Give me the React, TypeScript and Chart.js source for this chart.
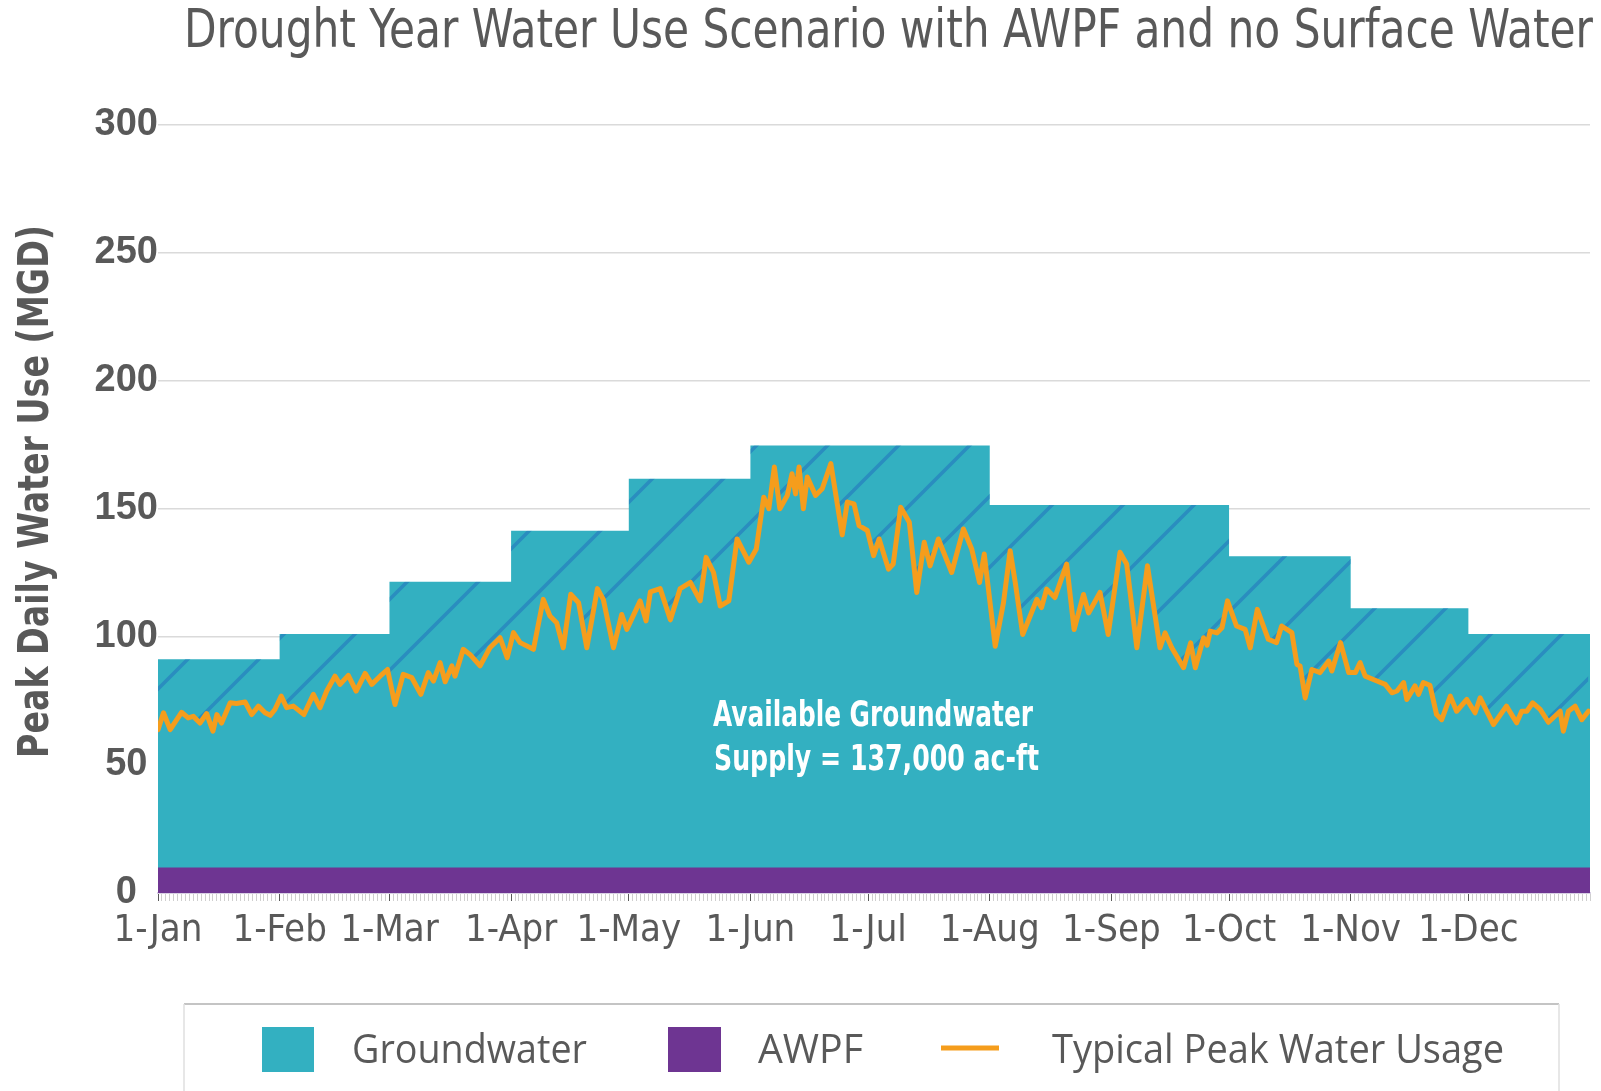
import { useEffect, useRef } from 'react';
import { Chart, registerables } from 'chart.js';

Chart.register(...registerables);

// ---------- data ----------
const monthLabels = ['1-Jan', '1-Feb', '1-Mar', '1-Apr', '1-May', '1-Jun', '1-Jul', '1-Aug', '1-Sep', '1-Oct', '1-Nov', '1-Dec'];
const monthStartDays = [0, 31, 59, 90, 120, 151, 181, 212, 243, 273, 304, 334];
const yearEndDay = 365;

// MGD available per month
const awpfSupply = [10, 10, 10, 10, 10, 10, 10, 10, 10, 10, 10, 10];
const groundwaterSupply = [81.3, 91.2, 111.6, 131.5, 151.8, 164.8, 164.8, 141.6, 141.6, 121.5, 101.2, 91.2];

// Typical peak water usage (day of year, MGD)
const usageDays = [
  0, 1.4, 3.1, 6.0, 7.7, 9.0, 10.7, 12.4, 14.0, 15.0, 16.2, 18.4, 20.0, 22.2, 23.9, 25.6, 27.3, 28.6, 29.8,
  31.4, 32.8, 34.5, 37.2, 39.6, 41.3, 43.0, 45.1, 46.4, 48.5, 50.5, 52.8, 54.5, 56.6, 58.5,
  60.4, 62.5, 64.7, 67.0, 68.9, 70.2, 71.9, 73.2, 74.9, 75.7, 77.8, 79.5, 82.1, 84.6, 87.2, 89.0,
  90.6, 92.3, 95.7, 98.2, 99.9, 101.6, 103.3, 105.2, 107.2, 109.3, 112.0, 113.5, 116.1, 118.2, 119.5,
  122.9, 124.4, 125.5, 128.0, 130.6, 133.1, 135.7, 138.2, 139.7, 141.6, 143.3, 145.5, 147.6, 150.6,
  152.5, 154.4, 155.7, 157.1, 158.5, 160.4, 161.6, 162.5, 163.4, 164.5, 165.5, 167.6, 169.3, 171.5,
  174.4, 175.7, 177.4, 178.7, 180.8, 182.4, 183.8, 186.2, 187.4, 189.3, 191.5, 193.4, 195.3, 196.8,
  198.9, 202.3, 205.3, 207.4, 209.4, 210.6, 213.4, 215.5, 217.2, 218.5, 220.4, 222.3, 224.0, 225.2,
  226.5, 228.6, 231.6, 233.5, 235.9, 237.2, 240.1, 242.2, 245.2, 246.9, 249.5, 252.2, 255.4, 256.7,
  258.4, 261.4, 263.2, 264.4, 266.5, 267.4, 268.2, 269.9, 271.2, 272.6, 274.9, 277.1, 278.4, 280.2,
  283.0, 285.1, 286.4, 289.0, 290.3, 291.1, 292.4, 294.1, 296.2, 298.4, 299.2, 301.4, 303.5, 305.2,
  306.4, 307.7, 310.7, 312.8, 314.5, 315.8, 317.5, 318.3, 320.4, 321.3, 322.5, 324.2, 325.9, 327.2,
  329.4, 331.0, 333.6, 335.7, 337.0, 340.4, 343.7, 346.3, 347.6, 348.9, 350.4, 352.3, 354.4, 357.4,
  358.2, 359.5, 361.2, 362.9, 364.6,
];
const usageValues = [
  63.8, 70.4, 63.8, 70.6, 68.4, 69.0, 66.4, 70.1, 63.2, 69.7, 66.4, 74.3, 74.0, 74.6, 69.7, 73.0, 70.4, 69.4, 71.7,
  76.9, 72.4, 73.0, 69.7, 77.6, 72.4, 78.9, 84.7, 81.5, 85.0, 78.9, 85.8, 81.5, 84.7, 87.3,
  73.6, 85.4, 84.1, 77.6, 86.1, 82.8, 90.0, 82.5, 88.7, 84.7, 95.2, 93.2, 88.7, 95.8, 99.7, 91.9,
  101.7, 97.8, 95.2, 114.7, 108.2, 105.6, 95.8, 116.7, 113.4, 95.8, 118.9, 114.7, 95.8, 108.8, 103.0,
  114.1, 106.3, 117.6, 118.9, 106.7, 118.9, 121.3, 114.1, 131.1, 125.2, 112.1, 114.1, 138.3, 129.2,
  134.4, 154.6, 150.1, 166.4, 150.1, 155.3, 163.8, 155.9, 166.4, 150.1, 162.5, 155.3, 157.9, 167.7,
  139.9, 152.7, 152.0, 143.5, 141.6, 131.8, 138.3, 126.5, 128.5, 150.7, 144.8, 117.4, 137.0, 127.8,
  138.3, 125.2, 142.2, 134.4, 121.3, 132.4, 96.4, 113.4, 133.7, 121.3, 101.0, 108.2, 114.7, 111.5,
  118.7, 115.4, 128.5, 102.9, 116.6, 109.4, 117.4, 101.0, 133.1, 128.5, 95.8, 127.8, 95.8, 101.6,
  95.8, 88.0, 97.7, 88.0, 99.7, 96.8, 102.3, 101.6, 103.6, 114.1, 104.3, 103.0, 95.8, 110.8,
  99.1, 97.8, 104.3, 101.7, 89.3, 88.7, 76.2, 87.3, 86.1, 90.6, 86.7, 97.8, 86.1, 86.1,
  90.0, 84.7, 82.8, 81.5, 78.2, 78.9, 82.2, 75.6, 80.9, 77.6, 82.2, 81.1, 69.7, 67.7,
  76.9, 71.0, 75.6, 70.4, 76.2, 65.8, 73.0, 66.5, 71.0, 71.0, 74.3, 71.7, 66.7, 71.0,
  63.2, 71.0, 73.0, 67.7, 71.0,
];

const yMin = 0;
const yMax = 300;
const yStep = 50;

const titleText = 'Drought Year Water Use Scenario with AWPF and no Surface Water';
const yTitleText = 'Peak Daily Water Use (MGD)';
const noteLines = ['Available Groundwater', 'Supply = 137,000 ac-ft'];
const seriesNames = ['Groundwater', 'AWPF', 'Typical Peak Water Usage'];

// ---------- styles ----------
const TEAL = '#33b0c1';
const PURPLE = '#6e3592';
const ORANGE = '#f59d1c';
const HATCH = '#2a8dbf';
const GRAY = '#595959';
const NARROW = '"Liberation Sans Narrow", "Nimbus Sans Narrow", "DejaVu Sans Condensed", "Liberation Sans", sans-serif';
const SANS = '"Liberation Sans", Arial, sans-serif';
const OPEN = '"Open Sans", "Noto Sans", sans-serif';

function stepPoints(values: number[]) {
  const pts = monthStartDays.map((d, i) => ({ x: d, y: values[i] }));
  pts.push({ x: yearEndDay, y: values[values.length - 1] });
  return pts;
}

function makeHatch(): CanvasPattern | string {
  const size = 71;
  const c = document.createElement('canvas');
  c.width = size;
  c.height = size;
  const g = c.getContext('2d');
  if (!g) return 'transparent';
  g.strokeStyle = HATCH;
  g.lineWidth = 3.5;
  for (const k of [-1, 0, 1, 2]) {
    const cc = 66 + size * k;
    g.beginPath();
    g.moveTo(cc + 10, -10);
    g.lineTo(cc - size - 10, size + 10);
    g.stroke();
  }
  return g.createPattern(c, 'repeat') || 'transparent';
}

function fitText(ctx: CanvasRenderingContext2D, text: string, x: number, y: number, width: number, font: string, color: string) {
  ctx.save();
  ctx.font = font;
  ctx.fillStyle = color;
  ctx.textAlign = 'left';
  ctx.textBaseline = 'alphabetic';
  const w = ctx.measureText(text).width || 1;
  ctx.translate(x, y);
  ctx.scale(width / w, 1);
  ctx.fillText(text, 0, 0);
  ctx.restore();
}

const decorPlugin = {
  id: 'decor',
  afterDatasetsDraw(chart: any) {
    const ctx: CanvasRenderingContext2D = chart.ctx;
    // annotation inside the groundwater area
    fitText(ctx, noteLines[0], 713, 726, 320, `bold 36px ${NARROW}`, '#ffffff');
    fitText(ctx, noteLines[1], 714, 770, 325, `bold 36px ${NARROW}`, '#ffffff');
  },
  afterDraw(chart: any) {
    const ctx: CanvasRenderingContext2D = chart.ctx;
    // title
    fitText(ctx, titleText, 184, 47, 1409, `53px ${NARROW}`, GRAY);
    // y-axis title
    ctx.save();
    ctx.translate(48, 758);
    ctx.rotate(-Math.PI / 2);
    fitText(ctx, yTitleText, 0, 0, 533, `bold 43px ${NARROW}`, GRAY);
    ctx.restore();
    // legend frame
    ctx.save();
    ctx.strokeStyle = '#c4c4c4';
    ctx.lineWidth = 2;
    ctx.beginPath();
    ctx.moveTo(184, 1004);
    ctx.lineTo(1559, 1004);
    ctx.stroke();
    ctx.strokeStyle = '#e0e0e0';
    ctx.lineWidth = 1.5;
    ctx.beginPath();
    ctx.moveTo(184, 1004);
    ctx.lineTo(184, 1091);
    ctx.moveTo(1559, 1004);
    ctx.lineTo(1559, 1091);
    ctx.stroke();
    // legend entries
    ctx.fillStyle = TEAL;
    ctx.fillRect(262, 1027, 52, 45);
    ctx.fillStyle = PURPLE;
    ctx.fillRect(668, 1027, 53, 45);
    ctx.strokeStyle = ORANGE;
    ctx.lineWidth = 5;
    ctx.beginPath();
    ctx.moveTo(941, 1048);
    ctx.lineTo(999, 1048);
    ctx.stroke();
    ctx.restore();
    fitText(ctx, seriesNames[0], 352, 1063, 235, `40px ${OPEN}`, GRAY);
    fitText(ctx, seriesNames[1], 758, 1063, 105, `40px ${OPEN}`, GRAY);
    fitText(ctx, seriesNames[2], 1052, 1063, 452, `40px ${OPEN}`, GRAY);
  },
};

export default function App() {
  const ref = useRef<HTMLCanvasElement>(null);

  useEffect(() => {
    const canvas = ref.current;
    if (!canvas) return;
    const hatch = makeHatch();
    const totalSupply = groundwaterSupply.map((g, i) => g + awpfSupply[i]);
    const usagePoints = usageDays.map((d, i) => ({ x: d, y: usageValues[i] }));
    const dayTicks: number[] = [];
    for (let d = 0; d <= yearEndDay; d++) dayTicks.push(d);

    const chart = new Chart(canvas, {
      type: 'line',
      data: {
        datasets: [
          {
            label: seriesNames[2],
            data: usagePoints,
            borderColor: ORANGE,
            borderWidth: 5,
            borderJoinStyle: 'round',
            borderCapStyle: 'round',
            pointRadius: 0,
            tension: 0,
            order: 0,
            fill: { target: 2, above: 'rgba(0,0,0,0)', below: hatch as any },
          } as any,
          {
            label: seriesNames[1],
            data: stepPoints(awpfSupply),
            stepped: true,
            borderWidth: 0,
            borderColor: 'rgba(0,0,0,0)',
            backgroundColor: PURPLE,
            pointRadius: 0,
            order: 1,
            fill: 'origin',
          },
          {
            label: seriesNames[0],
            data: stepPoints(totalSupply),
            stepped: true,
            borderWidth: 0,
            borderColor: 'rgba(0,0,0,0)',
            backgroundColor: TEAL,
            pointRadius: 0,
            order: 2,
            fill: 'origin',
          },
        ],
      },
      options: {
        responsive: false,
        animation: false,
        devicePixelRatio: 1,
        layout: { padding: { top: 125, right: 11, left: 0, bottom: 0 } },
        plugins: {
          legend: { display: false },
          title: { display: false },
          tooltip: { enabled: false },
        },
        scales: {
          x: {
            type: 'linear',
            min: 0,
            max: yearEndDay,
            afterBuildTicks: (scale: any) => {
              scale.ticks = dayTicks.map((v) => ({ value: v }));
            },
            afterFit: (scale: any) => {
              scale.height = 198;
            },
            ticks: {
              autoSkip: false,
              maxRotation: 0,
              minRotation: 0,
              padding: 7,
              color: GRAY,
              font: { family: NARROW, size: 38 },
              callback: (value: any) => {
                const i = monthStartDays.indexOf(Number(value));
                return i >= 0 ? monthLabels[i] : '';
              },
            },
            grid: {
              drawOnChartArea: false,
              drawTicks: true,
              tickLength: 8,
              tickWidth: 1,
              tickColor: (ctx: any) => (monthStartDays.includes(ctx.tick?.value) ? '#595959' : '#cfcfcf'),
            },
            border: { display: true, color: '#d8cfe3', width: 2 },
          },
          y: {
            min: yMin,
            max: yMax,
            afterFit: (scale: any) => {
              scale.width = 158;
            },
            ticks: {
              stepSize: yStep,
              padding: 0,
              crossAlign: 'center',
              color: GRAY,
              font: { family: SANS, size: 38, weight: 'bold' },
            },
            grid: {
              color: '#dadada',
              lineWidth: 1.5,
              drawTicks: false,
            },
            border: { display: false },
          },
        },
      },
      plugins: [decorPlugin],
    } as any);

    return () => chart.destroy();
  }, []);

  return (
    <div style={{ position: 'fixed', left: 0, top: 0, width: 1601, height: 1091, background: '#ffffff' }}>
      <canvas ref={ref} width={1601} height={1091} style={{ display: 'block', width: 1601, height: 1091 }} />
    </div>
  );
}
